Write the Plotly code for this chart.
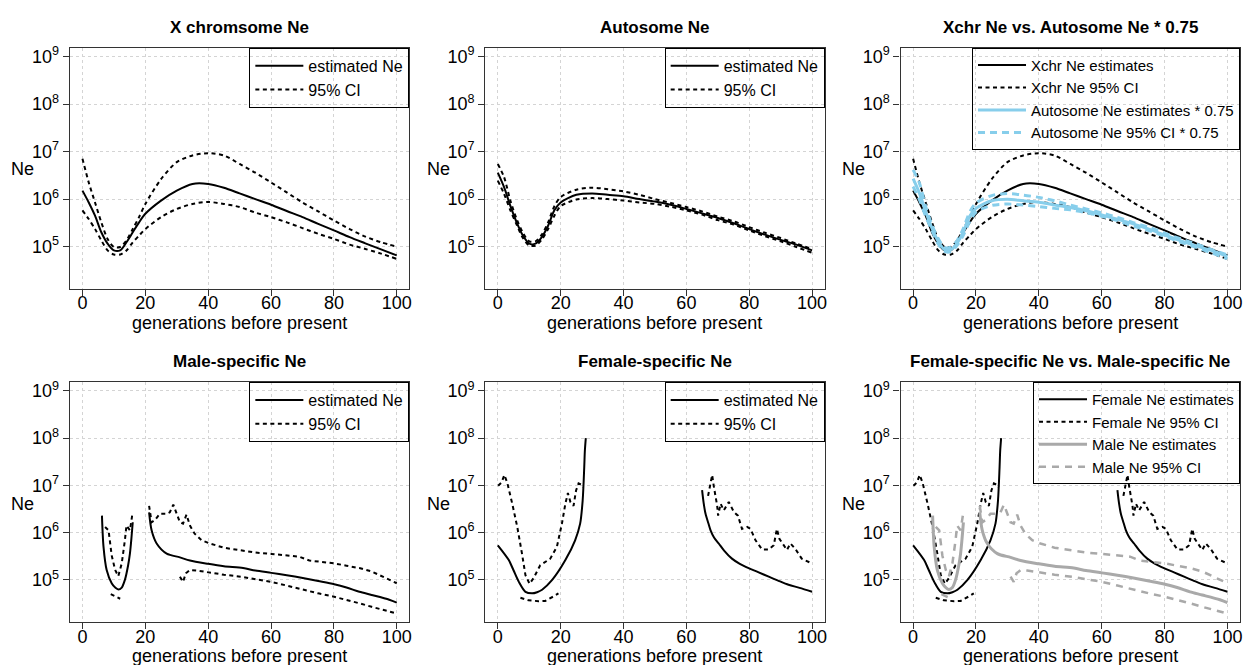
import plotly.graph_objects as go

FONT = "Liberation Sans, Arial, Helvetica, sans-serif"

# ---------------- data ----------------
GEN = [0, 2, 4, 6, 8, 10, 12, 14, 16, 18, 20, 25, 30, 35, 40, 45, 50, 55, 60, 65, 70, 75, 80, 85, 90, 95, 100]

xchr_est = [1.51e6, 8.5e5, 4.47e5, 2.0e5, 1.15e5, 8.3e4, 8.3e4, 1.23e5, 2.0e5, 3.24e5, 4.9e5, 9.3e5,
            1.51e6, 2.09e6, 2.09e6, 1.74e6, 1.32e6, 1.0e6, 7.6e5, 5.6e5, 4.17e5, 3.0e5, 2.19e5, 1.58e5,
            1.17e5, 8.7e4, 6.5e4]
xchr_hi = [7.1e6, 2.24e6, 8.5e5, 3.24e5, 1.45e5, 9.8e4, 9.8e4, 1.35e5, 2.34e5, 4.17e5, 7.9e5, 2.63e6,
           6.0e6, 8.3e6, 9.3e6, 8.3e6, 5.5e6, 3.6e6, 2.24e6, 1.38e6, 8.5e5, 5.5e5, 3.55e5, 2.34e5,
           1.62e5, 1.23e5, 1.0e5]
xchr_lo = [5.8e5, 3.8e5, 2.34e5, 1.35e5, 8.3e4, 6.8e4, 6.8e4, 8.3e4, 1.23e5, 1.7e5, 2.34e5, 4.17e5,
           6.2e5, 7.9e5, 8.7e5, 7.9e5, 6.8e5, 5.2e5, 4.17e5, 3.24e5, 2.45e5, 1.86e5, 1.45e5, 1.1e5,
           8.9e4, 7.1e4, 5.5e4]

auto_est = [3.6e6, 1.78e6, 7.2e5, 3.24e5, 1.7e5, 1.15e5, 1.15e5, 1.58e5, 2.75e5, 5.8e5, 8.5e5, 1.23e6,
            1.32e6, 1.23e6, 1.15e6, 1.0e6, 8.9e5, 7.6e5, 6.2e5, 5.0e5, 4.0e5, 3.1e5, 2.34e5, 1.78e5,
            1.38e5, 1.1e5, 8.3e4]
auto_hi = [5.5e6, 2.9e6, 9.3e5, 3.8e5, 1.95e5, 1.29e5, 1.29e5, 1.78e5, 3.24e5, 7.1e5, 1.1e6, 1.58e6,
           1.74e6, 1.62e6, 1.45e6, 1.23e6, 1.0e6, 8.3e5, 6.8e5, 5.5e5, 4.27e5, 3.4e5, 2.57e5, 1.95e5,
           1.51e5, 1.15e5, 8.9e4]
auto_lo = [2.45e6, 1.29e6, 5.8e5, 2.9e5, 1.51e5, 1.05e5, 1.05e5, 1.41e5, 2.34e5, 4.47e5, 7.1e5, 9.8e5,
           1.05e6, 1.0e6, 9.3e5, 8.5e5, 7.9e5, 6.9e5, 5.8e5, 4.7e5, 3.6e5, 2.9e5, 2.19e5, 1.66e5,
           1.29e5, 9.8e4, 7.4e4]
AUTO_SCALE = 0.75

# male-specific (None = gap where estimate undefined)
male_est_x = [6.2, 6.7, 7.7, 9.3, 10.5, 11.4, 12.5, 13.5, 14.5, 15.1, 15.6, 16.0, None,
              21.2, 22.0, 23.6, 26.8, 31.0, 34.2, 40.0, 45, 51.1, 55, 60.1, 65, 70.1, 75, 80.1, 84,
              88.1, 92, 97.6, 100]
male_est = [2.29e6, 5.0e5, 1.62e5, 8.5e4, 6.8e4, 6.3e4, 6.9e4, 1.0e5, 2.0e5, 3.6e5, 7.9e5, 1.66e6, None,
            2.69e6, 1.12e6, 5.9e5, 3.6e5, 3.0e5, 2.57e5, 2.19e5, 1.95e5, 1.78e5, 1.58e5, 1.41e5,
            1.26e5, 1.1e5, 9.5e4, 8.1e4, 6.9e4, 5.6e4, 4.8e4, 3.8e4, 3.3e4]
male_hi_x = [7.2, 8.3, 9.3, 10.4, 11.4, 12.5, 13.5, 14.0, 15.1, 15.9, None,
             21.2, 22.0, 23.1, 24.6, 26.8, 27.8, 28.9, 29.9, 31.0, 32.0, 33.1, 34.2, 35.7, 37.9,
             40.5, 45, 51.1, 55, 60.1, 65, 69.0, 72.2, 76, 80.1, 84, 88.1, 92, 95, 97.6, 100]
male_hi = [1.32e6, 1.12e6, 3.3e5, 1.62e5, 1.2e5, 2.24e5, 6.9e5, 1.41e6, 1.12e6, 2.5e6, None,
           3.7e6, 1.66e6, 1.86e6, 2.5e6, 2.5e6, 2.7e6, 3.9e6, 2.5e6, 1.66e6, 1.55e6, 2.4e6, 1.41e6,
           9.5e5, 6.9e5, 5.9e5, 4.8e5, 4.1e5, 3.8e5, 3.55e5, 3.3e5, 3.1e5, 2.57e5, 2.4e5, 2.24e5,
           2.0e5, 1.78e5, 1.51e5, 1.23e5, 1.02e5, 8.5e4]
male_lo_x = [9.0, 10.0, 11.0, 12.0, None,
             31.0, 32.0, 32.9, 34.2, 36.3, 40.5, 45, 51.1, 55, 60.1, 65, 70.1, 75, 80.1, 84, 88.1,
             92, 97.6, 100]
male_lo = [5.0e4, 4.7e4, 4.3e4, 4.0e4, None,
           1.17e5, 9.1e4, 1.38e5, 1.62e5, 1.58e5, 1.41e5, 1.29e5, 1.15e5, 1.05e5, 9.1e4, 7.6e4,
           6.2e4, 5.2e4, 4.4e4, 3.7e4, 3.2e4, 2.7e4, 2.1e4, 1.95e4]

# female-specific
female_est_x = [0, 3.5, 5.0, 6.7, 8.8, 10.9, 12.5, 14.1, 17.3, 21.5, 24.6, 26.2, 27.0, 27.5, 27.7, 28.0, None,
                65.0, 65.5, 66.1, 67.0, 67.7, 68.8, 70.3, 72.0, 74.5, 77.0, 79.8, 83.0, 86.2, 89.0,
                92.5, 96.0, 100]
female_est = [5.4e5, 2.63e5, 1.6e5, 9.1e4, 5.6e4, 5.2e4, 5.5e4, 6.2e4, 1.0e5, 2.63e5, 6.9e5, 1.55e6,
              4.8e6, 2.4e7, 5.4e7, 1.0e8, None,
              7.9e6, 4.2e6, 2.5e6, 1.58e6, 1.12e6, 7.9e5, 5.9e5, 4.17e5, 2.82e5, 2.19e5, 1.78e5,
              1.45e5, 1.17e5, 9.8e4, 7.9e4, 6.8e4, 5.6e4]
female_hi_x = [0.1, 1.2, 2.1, 3.0, 4.6, 6.2, 7.7, 8.8, 10.1, 11.4, 13.5, 16.7, 18.8, 20.4, 21.5, 22.3,
               23.1, 24.1, 24.9, 25.7, 26.8, 27.2, None,
               66.9, 67.4, 68.2, 68.7, 69.8, 70.1, 70.9, 71.9, 73.5, 75.1, 76.4, 77.7, 79.3, 80.4,
               82.0, 84.1, 86.2, 87.8, 88.8, 89.6, 90.9, 92.0, 93.1, 94.6, 96.7, 99.9]
female_hi = [9.8e6, 1.15e7, 1.66e7, 1.15e7, 4.1e6, 1.32e6, 3.6e5, 1.26e5, 8.3e4, 1.1e5, 2.04e5, 2.82e5,
             5.0e5, 1.55e6, 4.1e6, 6.9e6, 4.47e6, 3.7e6, 7.8e6, 1.1e7, 1.02e7, 9.1e6, None,
             6.0e6, 9.1e6, 1.66e7, 9.8e6, 3.7e6, 2.29e6, 4.1e6, 2.95e6, 4.47e6, 2.75e6, 2.29e6,
             1.2e6, 1.32e6, 1.2e6, 6.9e5, 4.4e5, 4.4e5, 5.4e5, 1.2e6, 7.4e5, 5.4e5, 4.3e5, 5.9e5,
             4.6e5, 2.82e5, 2.24e5]
female_lo_x = [7.2, 9.8, 13.0, 15.1, 17.8, 19.3]
female_lo = [4.2e4, 3.7e4, 3.55e4, 3.6e4, 4.5e4, 5.2e4]

TITLES = ["X chromsome Ne", "Autosome Ne", "Xchr Ne vs. Autosome Ne * 0.75",
          "Male-specific Ne", "Female-specific Ne", "Female-specific Ne vs. Male-specific Ne"]
X_TICKS = [0, 20, 40, 60, 80, 100]
Y_TICKS = [1e5, 1e6, 1e7, 1e8, 1e9]
Y_TICKTEXT = ["10<sup>5</sup>", "10<sup>6</sup>", "10<sup>7</sup>", "10<sup>8</sup>", "10<sup>9</sup>"]
X_LABEL = "generations before present"
Y_LABEL = "Ne"

# ---------------- styling / layout ----------------
W, H = 1248, 665
COLS = [(70, 410), (486, 826), (902, 1242)]
ROWS = [(45, 287), (380.7, 621.7)]
BLACK = "#000000"
BLUE = "#87CEEB"
GREY = "#A9A9A9"
CI_DASH = "4px,3.5px"

fig = go.Figure()


def ax_ids(p):
    return ("x" if p == 1 else f"x{p}"), ("y" if p == 1 else f"y{p}"), ("legend" if p == 1 else f"legend{p}")


def add(p, x, y, name, color, width, dash, show, group, shape="spline"):
    xa, ya, lg = ax_ids(p)
    fig.add_trace(go.Scatter(
        x=x, y=y, mode="lines", name=name, legendgroup=f"{p}-{group}", showlegend=show,
        legend=lg, xaxis=xa, yaxis=ya, connectgaps=False, hoverinfo="skip",
        line=dict(color=color, width=width, dash=dash, shape=shape, smoothing=0.8)))


def ci_pair(p, xhi, hi, xlo, lo, name, color, width, dash, group, shape="spline"):
    add(p, xhi, hi, name, color, width, dash, True, group, shape)
    add(p, xlo, lo, name, color, width, dash, False, group, shape)


auto_est_s = [v * AUTO_SCALE for v in auto_est]
auto_hi_s = [v * AUTO_SCALE for v in auto_hi]
auto_lo_s = [v * AUTO_SCALE for v in auto_lo]

# panel 1
add(1, GEN, xchr_est, "estimated Ne", BLACK, 2, "solid", True, "est")
ci_pair(1, GEN, xchr_hi, GEN, xchr_lo, "95% CI", BLACK, 2, CI_DASH, "ci")
# panel 2
add(2, GEN, auto_est, "estimated Ne", BLACK, 2, "solid", True, "est")
ci_pair(2, GEN, auto_hi, GEN, auto_lo, "95% CI", BLACK, 2, CI_DASH, "ci")
# panel 3
add(3, GEN, xchr_est, "Xchr Ne estimates", BLACK, 2, "solid", True, "xest")
ci_pair(3, GEN, xchr_hi, GEN, xchr_lo, "Xchr Ne 95% CI", BLACK, 2, CI_DASH, "xci")
add(3, GEN, auto_est_s, "Autosome Ne estimates * 0.75", BLUE, 3, "solid", True, "aest")
ci_pair(3, GEN, auto_hi_s, GEN, auto_lo_s, "Autosome Ne 95% CI * 0.75", BLUE, 3, "7px,5px", "aci")
# panel 4
add(4, male_est_x, male_est, "estimated Ne", BLACK, 2, "solid", True, "est")
ci_pair(4, male_hi_x, male_hi, male_lo_x, male_lo, "95% CI", BLACK, 2, CI_DASH, "ci", "linear")
# panel 5
add(5, female_est_x, female_est, "estimated Ne", BLACK, 2, "solid", True, "est")
ci_pair(5, female_hi_x, female_hi, female_lo_x, female_lo, "95% CI", BLACK, 2, CI_DASH, "ci", "linear")
# panel 6
add(6, female_est_x, female_est, "Female Ne estimates", BLACK, 2, "solid", True, "fest")
ci_pair(6, female_hi_x, female_hi, female_lo_x, female_lo, "Female Ne 95% CI", BLACK, 2, CI_DASH, "fci", "linear")
add(6, male_est_x, male_est, "Male Ne estimates", GREY, 3, "solid", True, "mest")
ci_pair(6, male_hi_x, male_hi, male_lo_x, male_lo, "Male Ne 95% CI", GREY, 2.5, "7px,6px", "mci", "linear")

layout = dict(width=W, height=H, margin=dict(l=0, r=0, t=0, b=0), paper_bgcolor="white",
              plot_bgcolor="white", font=dict(family=FONT, color="black", size=18), hovermode=False)
annotations = []
for p in range(1, 7):
    r, c = (p - 1) // 3, (p - 1) % 3
    x0, x1 = COLS[c]
    top, bot = ROWS[r]
    xd = [x0 / W, x1 / W]
    yd = [1 - bot / H, 1 - top / H]
    xa, ya, lg = ax_ids(p)
    xkey = "xaxis" if p == 1 else f"xaxis{p}"
    ykey = "yaxis" if p == 1 else f"yaxis{p}"
    common = dict(showline=True, mirror=True, linecolor="#333333", linewidth=1.3, ticks="outside",
                  ticklen=6, tickwidth=1.3, tickcolor="#333333", showgrid=True, gridcolor="#d4d4d4",
                  griddash="3px,3px", gridwidth=1, zeroline=False, tickfont=dict(size=18, family=FONT))
    layout[xkey] = dict(domain=xd, anchor=ya, range=[-4, 104], tickvals=X_TICKS,
                        ticklabelstandoff=-8, **common)
    layout[ykey] = dict(domain=yd, anchor=xa, type="log", range=[4.112, 9.188], tickvals=Y_TICKS,
                        ticktext=Y_TICKTEXT, **common)
    fs = 16 if p in (1, 2, 4, 5) else 15
    layout[lg] = dict(x=xd[1], xanchor="right", y=yd[1], yanchor="top", bordercolor="black",
                      borderwidth=1, bgcolor="rgba(0,0,0,0)", font=dict(size=fs, family=FONT),
                      tracegroupgap=0, itemwidth=48, traceorder="normal")
    cx = (x0 + x1) / 2 / W
    annotations.append(dict(text=f"<b>{TITLES[p-1]}</b>", x=cx, y=1 - (25 if r == 0 else 360) / H,
                            xref="paper", yref="paper", showarrow=False, xanchor="center",
                            yanchor="middle", font=dict(size=17, family=FONT)))
    annotations.append(dict(text=X_LABEL, x=cx, y=1 - (321 if r == 0 else 656) / H,
                            xref="paper", yref="paper", showarrow=False, xanchor="center",
                            yanchor="middle", font=dict(size=18, family=FONT)))
    annotations.append(dict(text=Y_LABEL, x=(x0 - 47) / W, y=1 - (167 if r == 0 else 503) / H,
                            xref="paper", yref="paper", showarrow=False, xanchor="center",
                            yanchor="middle", font=dict(size=18, family=FONT)))
layout["annotations"] = annotations
fig.update_layout(**layout)
fig.write_html("out.html")
